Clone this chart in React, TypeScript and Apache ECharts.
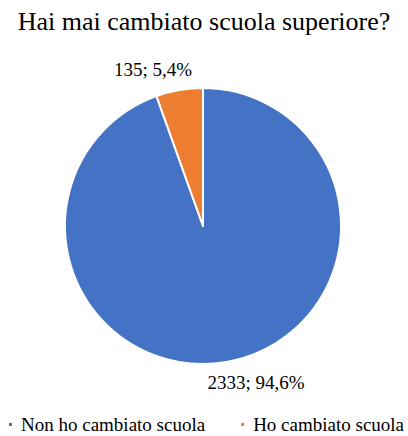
import React, { useEffect, useRef } from "react";
import * as echarts from "echarts";

const titleText = "Hai mai cambiato scuola superiore?";
const categories = ["Non ho cambiato scuola", "Ho cambiato scuola"];
const counts = [2333, 135];
const percents = ["94,6%", "5,4%"];
const colors = ["#4472C4", "#ED7D31"];

const FONT = "Liberation Serif";

export default function App() {
  const ref = useRef<HTMLDivElement>(null);
  useEffect(() => {
    if (!ref.current) return;
    const chart = echarts.init(ref.current, null, { renderer: "svg" });
    const labelPos = [
      { x: 256, y: 382.5 },
      { x: 153, y: 69.5 },
    ];
    chart.setOption({
      animation: false,
      backgroundColor: "#ffffff",
      title: {
        text: titleText,
        left: "center",
        top: 8,
        padding: 0,
        textStyle: { fontFamily: FONT, fontSize: 26, fontWeight: "normal", color: "#000" },
      },
      legend: {
        left: 7,
        top: 415,
        width: 600,
        padding: 0,
        itemWidth: 5,
        itemHeight: 5,
        itemGap: 34,
        icon: "rect",
        textStyle: { fontFamily: FONT, fontSize: 19, color: "#000", padding: [0, 0, 0, 3] },
        data: categories,
      },
      series: [
        {
          type: "pie",
          center: [203, 226],
          radius: [0, 138],
          startAngle: 90,
          clockwise: true,
          itemStyle: { borderColor: "#ffffff", borderWidth: 2 },
          labelLine: { show: false },
          label: {
            show: true,
            position: "outside",
            fontFamily: FONT,
            fontSize: 19,
            color: "#000",
            formatter: (p: any) => `${counts[p.dataIndex]}; ${percents[p.dataIndex]}`,
          },
          labelLayout: (params: any) => ({
            x: labelPos[params.dataIndex].x,
            y: labelPos[params.dataIndex].y,
            align: "center",
            verticalAlign: "middle",
          }),
          data: categories.map((c, i) => ({
            name: c,
            value: counts[i],
            itemStyle: { color: colors[i] },
          })),
        },
      ],
    });
    return () => chart.dispose();
  }, []);
  return (
    <div
      ref={ref}
      style={{ position: "fixed", left: 0, top: 0, width: 408, height: 436, background: "#fff" }}
    />
  );
}
